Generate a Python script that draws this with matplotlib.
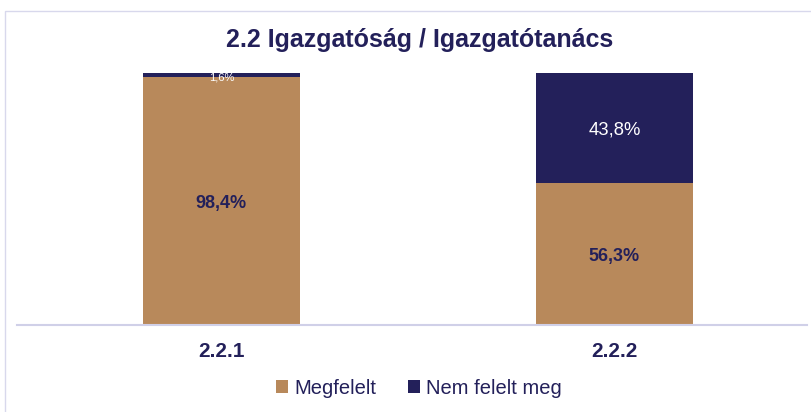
import matplotlib as mpl
from matplotlib import pyplot as plt
import numpy as np

categories = ["2.2.1", "2.2.2"]
megfelelt = [98.4, 56.3]
nem_felelt = [1.6, 43.8]

tan = "#B8895B"
navy = "#23205A"

mpl.rcParams['font.family'] = ['Liberation Sans', 'DejaVu Sans']

fig = plt.figure(figsize=(8.11, 4.12), dpi=100)
ax = fig.add_axes([17/811, 87/412, 790/811, 252/412])

x = np.arange(len(categories))
ax.bar(x, megfelelt, width=0.4, color=tan, label="Megfelelt")
ax.bar(x, nem_felelt, width=0.4, bottom=megfelelt, color=navy,
       label="Nem felelt meg")

# data labels
for i in range(len(categories)):
    ax.text(x[i], megfelelt[i] / 2 - 0.8,
            "{:.1f}%".format(megfelelt[i]).replace(".", ","),
            ha="center", va="center", color=navy, fontsize=13, fontweight="bold")
    y = megfelelt[i] + nem_felelt[i] / 2
    fs = 8 if nem_felelt[i] < 5 else 13.3
    ax.text(x[i], y - 0.8, "{:.1f}%".format(nem_felelt[i]).replace(".", ","),
            ha="center", va="center", color="white", fontsize=fs)

ax.set_xlim(-0.52, 1.49)
ax.set_ylim(0, 100)
ax.set_yticks([])
ax.set_xticks(x)
ax.set_xticklabels(categories, fontsize=15, fontweight="bold", color=navy)
ax.tick_params(axis="x", length=0, pad=12)
for s in ["top", "right", "left"]:
    ax.spines[s].set_visible(False)
ax.spines["bottom"].set_color("#D0D0E8")
ax.spines["bottom"].set_linewidth(1.5)

fig.text(420/811, 1 - 40/412, "2.2 Igazgatóság / Igazgatótanács", ha="center",
         va="center", fontsize=18, fontweight="bold", color=navy)

fig.legend(loc="center", bbox_to_anchor=(419/811, 1 - 388/412), ncol=2,
           frameon=False, fontsize=14.5, handlelength=0.6, handleheight=0.6,
           columnspacing=1.6, handletextpad=0.3, labelcolor=navy)

# chart border
border = mpl.patches.Rectangle((5/811, -0.1), 1.0, 1 - 11/412 + 0.1,
                               transform=fig.transFigure, fill=False,
                               edgecolor="#D8D8EC", linewidth=1)
fig.patches.append(border)

plt.savefig("out.png", dpi=100)
